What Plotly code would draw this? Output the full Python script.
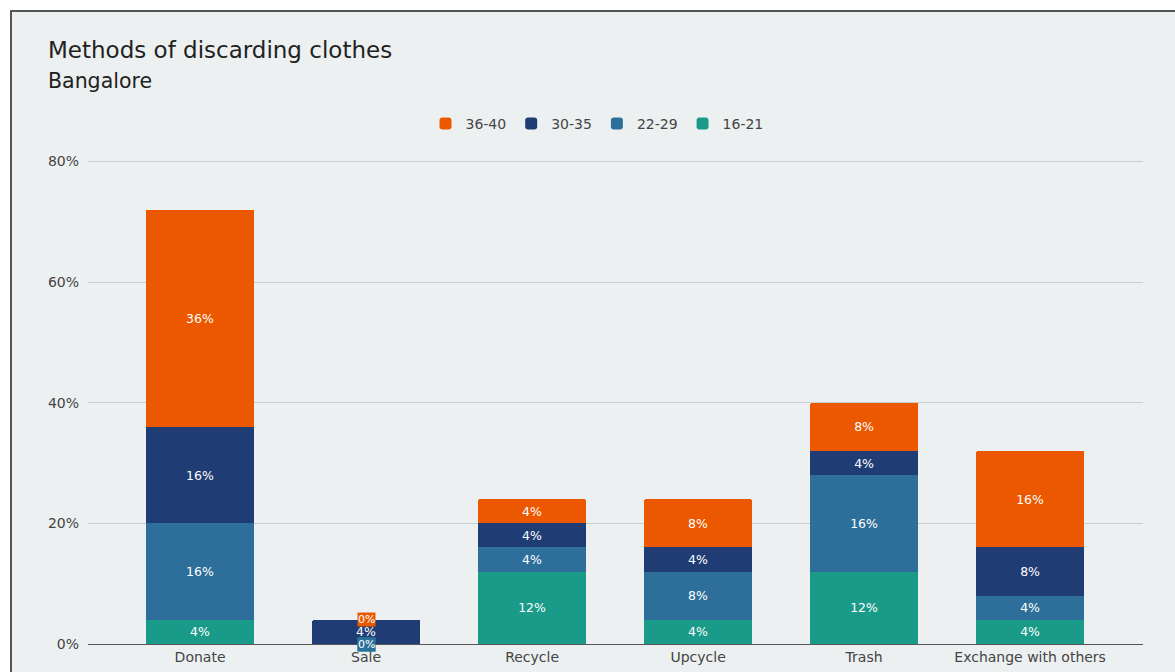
import plotly.graph_objects as go

categories = ["Donate", "Sale", "Recycle", "Upcycle", "Trash", "Exchange with others"]
series_names = ["16-21", "22-29", "30-35", "36-40"]
v_16_21 = [4, 0, 12, 4, 12, 4]
v_22_29 = [16, 0, 4, 8, 16, 4]
v_30_35 = [16, 4, 4, 4, 4, 8]
v_36_40 = [36, 0, 4, 8, 8, 16]
y_ticks = [0, 20, 40, 60, 80]
y_tick_labels = ["0%", "20%", "40%", "60%", "80%"]

series_values = [v_16_21, v_22_29, v_30_35, v_36_40]
colors = ["#1A9A88", "#2D6F9A", "#1F3C74", "#EB5800"]

BG = "#EDF0F1"
FONT = "DejaVu Sans"

Y_TOP = 80.4
PLOT_TOP_PX = 161 - int(round(0.4 / 80 * 483))
PLOT_BOTTOM_PX = 644
PLOT_H = PLOT_BOTTOM_PX - PLOT_TOP_PX

fig = go.Figure()
for name, vals, col in zip(series_names, series_values, colors):
    fig.add_trace(go.Bar(
        x=categories, y=vals, name=name,
        marker=dict(color=col, line=dict(width=0)),
        text=[f"{v}%" for v in vals],
        textposition="inside", insidetextanchor="middle",
        textfont=dict(color="white", size=12.5, family=FONT),
        textangle=0,
        hoverinfo="x+y+name",
    ))

# labels for zero-height segments (drawn at their stack position)
annotations = []
for idx in [0, 1, 3]:
    vals = series_values[idx]
    for i, v in enumerate(vals):
        if v == 0:
            base = sum(series_values[k][i] for k in range(idx))
            annotations.append(dict(
                x=categories[i], y=base, xref="x", yref="y",
                text=f"{v}%", showarrow=False,
                font=dict(color="white", size=11, family=FONT),
                bgcolor=colors[idx], borderpad=0,
            ))

# outer frame
shapes = [dict(type="rect", xref="paper", yref="paper",
               x0=(11 - 88) / 1055, x1=1.3, y0=-0.5,
               y1=(PLOT_BOTTOM_PX - 11) / PLOT_H,
               fillcolor=BG, line=dict(color="#555555", width=2), layer="below")]

fig.update_layout(
    width=1175, height=672,
    margin=dict(l=88, r=32, t=PLOT_TOP_PX, b=672 - PLOT_BOTTOM_PX, autoexpand=False),
    paper_bgcolor="white", plot_bgcolor=BG,
    barmode="stack", bargap=0.35, barcornerradius=2,
    font=dict(family=FONT, color="#444444"),
    title=dict(
        text="Methods of discarding clothes<br><span style='font-size:20.5px'>Bangalore</span>",
        x=48 / 1175, xanchor="left", y=1 - 58 / 672, yanchor="middle",
        font=dict(size=23, color="#222222", family=FONT),
    ),
    legend=dict(
        orientation="h", x=597 / 1175, xref="container", xanchor="center",
        y=1 - 124 / 672, yref="container", yanchor="middle",
        traceorder="reversed", font=dict(size=14, color="#444444"),
        itemwidth=30, bgcolor="rgba(0,0,0,0)",
    ),
    xaxis=dict(
        range=[-0.675, 5.68], showgrid=False, showline=True, linecolor="#555555",
        linewidth=1, ticks="", tickfont=dict(size=14, color="#444444"),
        fixedrange=True, automargin=False,
    ),
    yaxis=dict(
        range=[0, Y_TOP], tickvals=y_ticks, ticktext=y_tick_labels,
        showgrid=True, gridcolor="#C8CDD0", gridwidth=1, zeroline=False,
        tickfont=dict(size=14, color="#444444"), ticks="", ticklabelstandoff=8,
        showline=False, automargin=False,
    ),
    annotations=annotations,
    shapes=shapes,
)

fig.write_html("out.html")
